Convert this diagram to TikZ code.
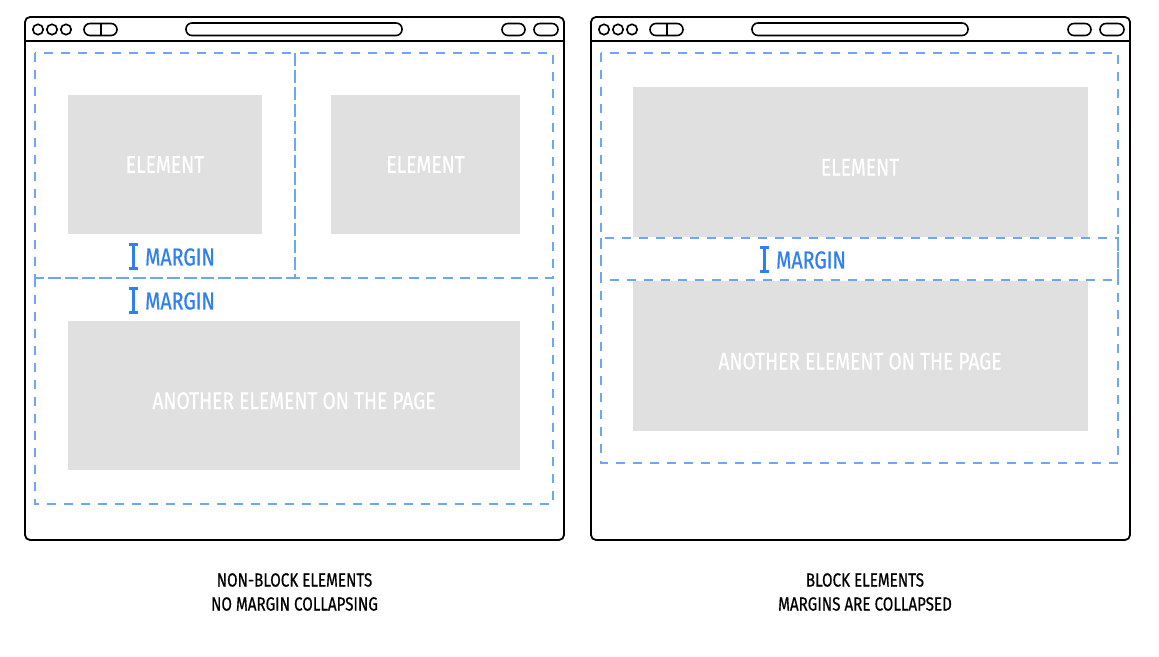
\documentclass[tikz,border=0pt]{standalone}
\usepackage{fontspec}
\setmainfont{Fira Sans}[FakeStretch=0.8, FakeBold=0.6, AutoFakeBold=0.6]
\usetikzlibrary{arrows.meta,positioning}

\definecolor{guide}{HTML}{6EA6F7}
\definecolor{mblue}{HTML}{2F7FF0}
\definecolor{elfill}{HTML}{E0E0E0}

\tikzset{
  browser/.pic={
    \draw[line width=1.8pt, rounded corners=5pt] (0,0) rectangle (539,523);
    \draw[line width=1.8pt] (0,24) -- (539,24);
    \foreach \cx in {13,27,41}
      \draw[line width=1.6pt] (\cx,12.5) circle (5.2pt);
    \draw[line width=1.6pt, rounded corners=6pt] (59,6.5) rectangle (92,18.5);
    \draw[line width=1.6pt] (76,6.5) -- (76,18.5);
    \draw[line width=1.6pt, rounded corners=6pt] (161,6) rectangle (377,18.5);
    \draw[line width=1.6pt, rounded corners=6pt] (477,6.5) rectangle (500,18.5);
    \draw[line width=1.6pt, rounded corners=6pt] (509,6.5) rectangle (533,18.5);
  }
}

\begin{document}
\begin{tikzpicture}[x=1pt, y=-1pt,
    guidebox/.style={draw=guide, line width=1.8pt, dash pattern=on 9pt off 8pt},
    elem/.style={fill=elfill, text=white, inner sep=0pt,
      font=\fontsize{24}{26}\selectfont},
    low/.style={text height=27pt, text depth=0pt},
    mrg/.style={text=mblue, inner sep=0pt, anchor=west,
      font=\fontsize{24.5}{26}\selectfont},
    ibeam/.style={draw=mblue, line width=3pt,
      {Bar[width=9pt,line width=3pt]}-{Bar[width=9pt,line width=3pt]}},
    captext/.style={align=center, font=\fontsize{19}{24}\selectfont}]

  \useasboundingbox (0,0) rectangle (1159,656);

  % browser windows
  \pic at (25,17) {browser};
  \pic at (591,17) {browser};

  % left: non-block elements
  \draw[guidebox] (35,53) rectangle (295,278);
  \draw[guidebox] (295,53) rectangle (553,278);
  \draw[guidebox] (35,278) rectangle (553,504);

  \node[elem, minimum width=194pt, minimum height=139pt] (elA) at (165,164.5) {ELEMENT};
  \node[elem, minimum width=189pt, minimum height=139pt] (elB) at (425.5,164.5) {ELEMENT};
  \node[elem, low, minimum width=452pt, minimum height=149pt] (elC) at (294,395.5) {ANOTHER ELEMENT ON THE PAGE};

  \node[mrg] (mgA) at (145,257) {MARGIN};
  \node[mrg] (mgB) at (145,301) {MARGIN};
  \draw[ibeam] ([shift={(-12,-14)}]mgA.west) -- ([shift={(-12,13)}]mgA.west);
  \draw[ibeam] ([shift={(-12,-14)}]mgB.west) -- ([shift={(-12,13)}]mgB.west);

  % right: block elements
  \draw[guidebox] (601,53) rectangle (1118,463);
  \draw[guidebox] (601,238) rectangle (1118,280);

  \node[elem, low, minimum width=455pt, minimum height=150pt] (elD) at (860,162) {ELEMENT};
  \node[elem, low, minimum width=455pt, minimum height=150pt] (elE) at (860,356) {ANOTHER ELEMENT ON THE PAGE};

  \node[mrg] (mgC) at (776,260) {MARGIN};
  \draw[ibeam] ([shift={(-12,-14)}]mgC.west) -- ([shift={(-12,13)}]mgC.west);

  % captions
  \node[captext] (capL) at (294.5,592) {NON-BLOCK ELEMENTS\\NO MARGIN COLLAPSING};
  \node[captext] (capR) at (865,592) {BLOCK ELEMENTS\\MARGINS ARE COLLAPSED};
\end{tikzpicture}
\end{document}
